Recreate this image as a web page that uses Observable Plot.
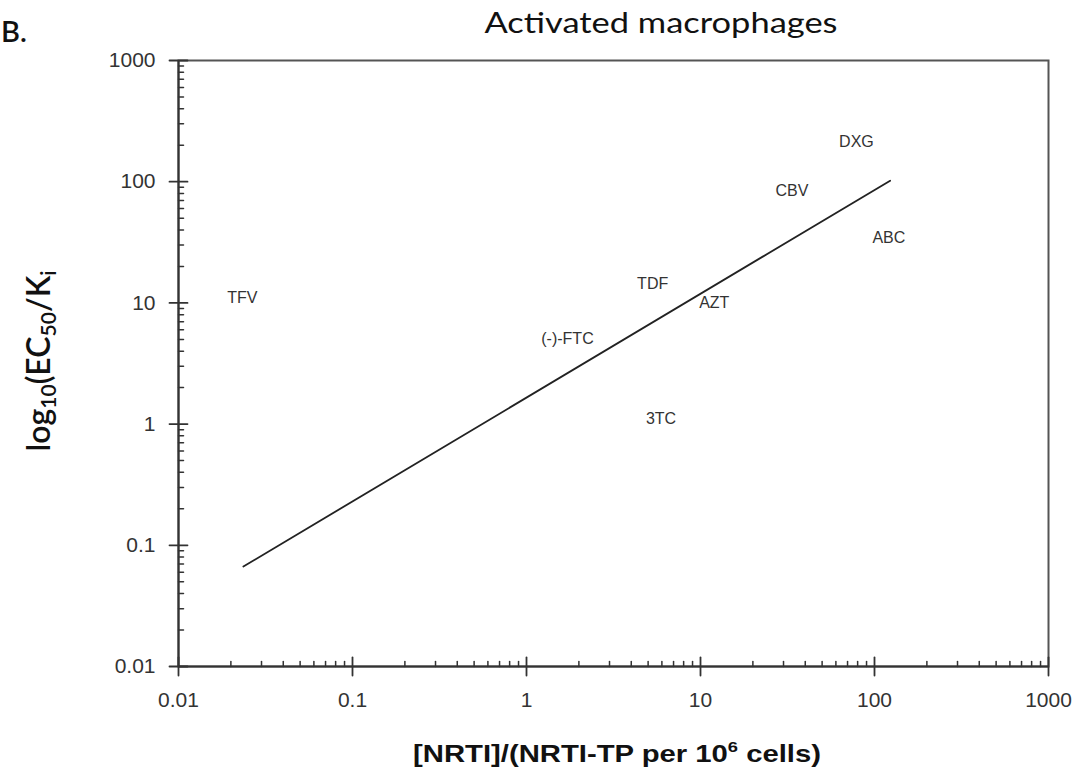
<!DOCTYPE html>
<html>
<head>
<meta charset="utf-8">
<script src="https://cdn.jsdelivr.net/npm/d3@7"></script>
<script src="https://cdn.jsdelivr.net/npm/@observablehq/plot@0.6"></script>
<style>
  html, body { margin: 0; padding: 0; background: #fff; }
  #chart svg { display: block; }
</style>
</head>
<body>
<div id="chart"></div>
<script>
// ---- data ----
const drugs = ["TFV", "(-)-FTC", "TDF", "AZT", "CBV", "DXG", "ABC", "3TC"];
const ratio = [0.0233, 1.72, 5.31, 12.0, 33.5, 78.7, 121, 5.93];          // [NRTI]/(NRTI-TP per 10^6 cells)
const selectivity = [10.9, 5.06, 14.4, 9.95, 83.5, 215, 34.4, 1.11];      // EC50/Ki
const fitX = [0.0236, 123];
const fitY = [0.0668, 102];
const majorTicks = [0.01, 0.1, 1, 10, 100, 1000];
const tickLabels = ["0.01", "0.1", "1", "10", "100", "1000"];
const minorMultipliers = [2, 3, 4, 5, 6, 7, 8, 9];
const titleText = "Activated macrophages";
const panelText = "B.";

// ---- derived tables ----
const points = drugs.map((d, i) => ({drug: d, x: ratio[i], y: selectivity[i]}));
const fit = fitX.map((x, i) => ({x, y: fitY[i]}));
const minorTicks = majorTicks.slice(0, -1).flatMap(t => minorMultipliers.map(m => +(t * m).toPrecision(3)));
const lineShape = {draw(ctx, l) { ctx.moveTo(0, 0); ctx.lineTo(0, -l); }};
const axisColor = "#333";

const chart = Plot.plot({
  width: 1078,
  height: 775,
  marginLeft: 178,
  marginRight: 30,
  marginTop: 60,
  marginBottom: 109,
  style: {fontFamily: "'Liberation Sans', Arial, sans-serif", background: "#fff", color: "#222"},
  x: {type: "log", domain: [0.01, 1000]},
  y: {type: "log", domain: [0.01, 1000]},
  marks: [
    Plot.frame({stroke: "#555", strokeWidth: 2}),
    Plot.ruleX([0.01], {stroke: axisColor, strokeWidth: 2}),
    Plot.ruleY([0.01], {stroke: axisColor, strokeWidth: 2}),
    // minor ticks (inward)
    Plot.vector(minorTicks, {x: d => d, y: 0.01, length: 5, anchor: "start", rotate: 0, shape: lineShape, stroke: axisColor, fill: "none", strokeWidth: 1.5}),
    Plot.vector(minorTicks, {x: 0.01, y: d => d, length: 5, anchor: "start", rotate: 90, shape: lineShape, stroke: axisColor, fill: "none", strokeWidth: 1.5}),
    // major ticks (crossing)
    Plot.vector(majorTicks, {x: d => d, y: 0.01, length: 18, anchor: "middle", rotate: 0, shape: lineShape, stroke: axisColor, fill: "none", strokeWidth: 1.8}),
    Plot.vector(majorTicks, {x: 0.01, y: d => d, length: 18, anchor: "middle", rotate: 90, shape: lineShape, stroke: axisColor, fill: "none", strokeWidth: 1.8}),
    Plot.axisX({ticks: majorTicks, tickFormat: d => tickLabels[majorTicks.indexOf(d)], tickSize: 0, tickPadding: 26, fontSize: 21, label: null, fill: "#333"}),
    Plot.axisY({ticks: majorTicks, tickFormat: d => tickLabels[majorTicks.indexOf(d)], tickSize: 0, tickPadding: 23, fontSize: 21, label: null, fill: "#333"}),
    Plot.line(fit, {x: "x", y: "y", stroke: "#222", strokeWidth: 1.8}),
    Plot.text(points, {x: "x", y: "y", text: "drug", fontSize: 16, fill: "#333"})
  ]
});

// ---- titles and axis labels (rich text with sub/superscripts) ----
const svg = d3.select(chart);
svg.append("text")
  .attr("x", 661).attr("y", 33)
  .attr("text-anchor", "middle")
  .attr("font-family", "Lato, 'Open Sans', sans-serif")
  .attr("font-size", 28)
  .attr("textLength", 353).attr("lengthAdjust", "spacingAndGlyphs")
  .attr("fill", "#111")
  .text(titleText);
svg.append("text")
  .attr("x", 14).attr("y", 42)
  .attr("font-family", "Lato, 'Open Sans', sans-serif")
  .attr("font-size", 29)
  .attr("font-weight", 600)
  .attr("fill", "#111")
  .text(panelText);

// y label
const yl = svg.append("text")
  .attr("transform", "translate(50,361) rotate(-90)")
  .attr("text-anchor", "middle")
  .attr("font-family", "Lato, 'Open Sans', sans-serif")
  .attr("font-size", 32)
  .attr("font-weight", 600)
  .attr("fill", "#111");
yl.append("tspan").text("log");
yl.append("tspan").attr("font-size", 21).attr("dy", 6).text("10");
yl.append("tspan").attr("dy", -6).text("(EC");
yl.append("tspan").attr("font-size", 21).attr("dy", 6).text("50");
yl.append("tspan").attr("dy", -6).text("/K");
yl.append("tspan").attr("font-size", 21).attr("dy", 6).text("i");

// x label
const xl = svg.append("text")
  .attr("x", 617).attr("y", 762)
  .attr("text-anchor", "middle")
  .attr("font-family", "'Liberation Sans', Arial, sans-serif")
  .attr("font-size", 24)
  .attr("font-weight", "bold")
  .attr("textLength", 408).attr("lengthAdjust", "spacingAndGlyphs")
  .attr("fill", "#111");
xl.append("tspan").text("[NRTI]/(NRTI-TP per 10");
xl.append("tspan").attr("font-size", 15).attr("dy", -10).text("6");
xl.append("tspan").attr("dy", 10).text(" cells)");

document.getElementById("chart").appendChild(chart);
</script>
</body>
</html>
